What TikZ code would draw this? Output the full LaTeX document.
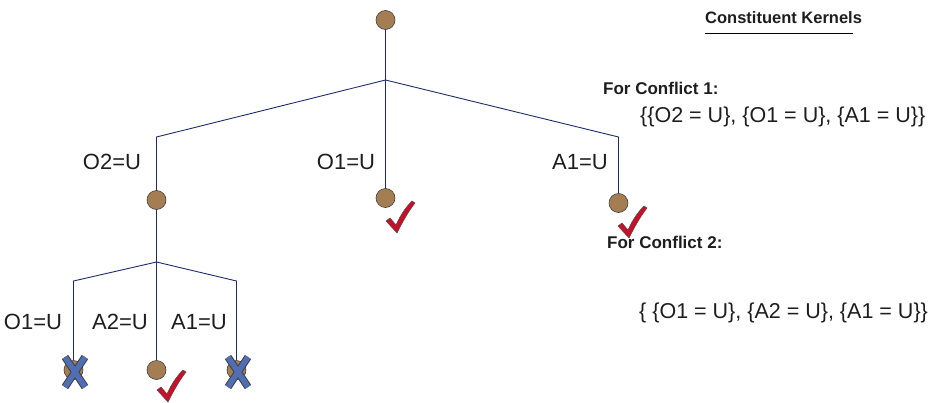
\documentclass[tikz,border=0pt]{standalone}
\usepackage{fontspec}
\setmainfont{Liberation Sans}
\definecolor{ln}{RGB}{30,45,105}
\definecolor{nodefill}{RGB}{165,125,82}
\definecolor{tickred}{RGB}{200,16,40}
\definecolor{xblue}{RGB}{80,110,180}
\definecolor{txt}{RGB}{30,30,30}
\tikzset{
  dot/.style={circle, draw=black!75, fill=nodefill, minimum size=19pt, inner sep=0pt, line width=0.6pt},
  edge/.style={draw=ln, line width=0.9pt},
  thickedge/.style={draw=ln, line width=1.8pt},
  lbl/.style={font=\fontsize{22}{26}\selectfont, text=txt, inner sep=0pt},
  settext/.style={font=\fontsize{21.5}{25}\selectfont, text=txt, inner sep=0pt, anchor=west},
  headtext/.style={font=\bfseries\fontsize{17}{21}\selectfont, text=txt, inner sep=0pt, anchor=west},
  checkmark/.pic={
    \filldraw[fill=tickred, draw=black!70, line width=0.5pt]
      (-14,3) -- (-10,0) -- (-4,7) .. controls (1,-4) and (6,-11) .. (12,-17)
      -- (15,-15) .. controls (8,-6) and (2,5) .. (-3,15) -- cycle;
  },
  crossmark/.pic={
    \draw[black!75, line width=7.5pt] (-10,-15) -- (10,15) (10,-15) -- (-10,15);
    \draw[xblue, line width=5.5pt] (-10,-15) -- (10,15) (10,-15) -- (-10,15);
  }
}
\begin{document}
\begin{tikzpicture}[x=1pt,y=-1pt]
\useasboundingbox[fill=white] (0,0) rectangle (929,402);
% upper level
\node[dot] (root) at (385.5,20) {};
\coordinate (j1) at (385.5,80);
\coordinate (t1) at (385.5,55);
\coordinate (cl) at (156.5,137);
\coordinate (cr) at (618.5,137);
\node[dot] (nl) at (156.5,200) {};
\node[dot] (nm) at (385.5,198) {};
\node[dot] (nr) at (618.5,203) {};
\draw[edge] (root) -- (j1);
\draw[thickedge] (t1) -- (j1);
\draw[edge] (j1) -- (cl) -- (nl);
\draw[edge] (j1) -- (nm);
\draw[edge] (j1) -- (cr) -- (nr);
\node[lbl] (l1) at (112,162) {O2=U};
\node[lbl] (l2) at (346,162) {O1=U};
\node[lbl] (l3) at (580,162) {A1=U};
\pic at (400,218) {checkmark};
\pic at (632,223) {checkmark};
% lower level
\coordinate (j2) at (156.5,262);
\coordinate (t2) at (156.5,236);
\coordinate (cll) at (73.5,281);
\coordinate (clr) at (236.5,281);
\node[dot] (bl) at (73.5,370) {};
\node[dot] (bm) at (156.5,370) {};
\node[dot] (br) at (236.5,370) {};
\draw[edge] (nl) -- (j2);
\draw[thickedge] (t2) -- (j2);
\draw[edge] (j2) -- (cll) -- (bl);
\draw[edge] (j2) -- (bm);
\draw[edge] (j2) -- (clr) -- (br);
\node[lbl] (l4) at (33,322) {O1=U};
\node[lbl] (l5) at (120,322) {A2=U};
\node[lbl] (l6) at (199,322) {A1=U};
\pic at (75,372) {crossmark};
\pic at (238,372) {crossmark};
\pic at (171,387) {checkmark};
% right text
\node[headtext, font=\bfseries\fontsize{16.5}{20}\selectfont] (head) at (705,18) {Constituent Kernels};
\coordinate (u1) at (705,33.5);
\coordinate (u2) at (853,33.5);
\draw[black, line width=1pt] (u1) -- (u2);
\node[headtext] (c1) at (603,88) {For Conflict 1:};
\node[settext] (s1) at (640,117) {\{\{O2 = U\}, \{O1 = U\}, \{A1 = U\}\}};
\node[headtext] (c2) at (607,242) {For Conflict 2:};
\node[settext] (s2) at (639,313) {\{ \{O1 = U\}, \{A2 = U\}, \{A1 = U\}\}};
\end{tikzpicture}
\end{document}
